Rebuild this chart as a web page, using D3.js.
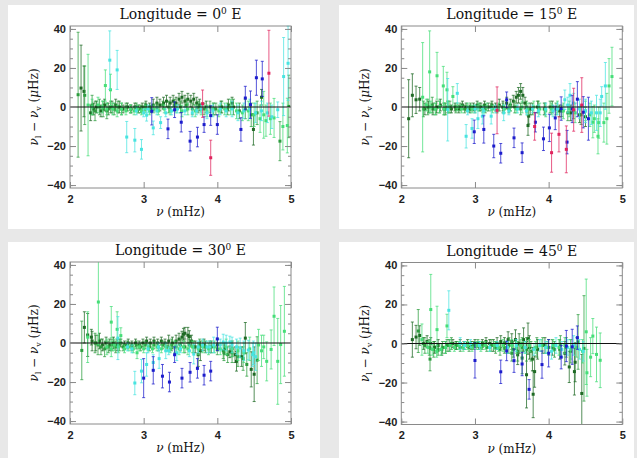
<!DOCTYPE html>
<meta charset="utf-8">
<script src="https://d3js.org/d3.v7.min.js"></script>
<style>
  body { margin: 0; background: #e8e8e8; }
  svg { display: block; }
</style>
<body>
<div id="chart"></div>
<script>

// data: [nu (mHz), nu_l - nu_v (muHz), error]
// ---- Longitude = 0 E
var lon0_dkgreen = [[2.15,9.7,22],[2.19,8,13],[2.28,-3,4],[2.32,-1,3],[2.36,0,3],[2.42,-2,3],[2.47,1,3],[2.52,-1,3],[2.57,0,3],[2.62,1,3],[2.67,0,3],[2.72,-1,2],[2.78,0,2],[2.83,-1,2],[2.88,0,2],[2.93,-1,2],[2.98,0,2],[3.03,1,2],[3.08,0,2],[3.13,1,3],[3.18,2,3],[3.22,1,3],[3.27,2,3],[3.31,3,3],[3.36,2,3],[3.40,3,3],[3.44,2,3],[3.48,4,3],[3.52,5,3],[3.56,3,3],[3.60,4,3],[3.64,3,3],[3.68,4,3],[3.72,2,3],[3.76,1,3],[3.85,0,3],[3.95,-1,3],[4.05,0,3],[4.15,1,3],[4.2,2,3],[4.49,-11.5,8],[4.6,5,4]];
var lon0_green = [[2.11,6.3,32],[2.2,6,15],[2.3,1,5],[2.34,-2,5],[2.4,0,4],[2.45,-1,4],[2.5,-2,4],[2.55,0,3],[2.6,-1,3],[2.65,0,3],[2.7,-1,3],[2.76,0,2],[2.82,-1,2],[2.9,0,2],[2.96,-1,2],[3.02,0,2],[3.1,-1,2],[3.18,0,2],[3.26,1,2],[3.34,0,3],[3.42,1,3],[3.5,0,3],[3.58,1,3],[3.66,-1,3],[3.74,0,3],[3.82,-1,3],[3.9,0,3],[3.98,-1,3],[4.06,0,3],[4.14,-1,3],[4.22,0,4],[4.3,-2,4],[4.38,-1,5],[4.46,-4,6],[4.54,-3,6],[4.85,-17.5,10],[4.97,0.3,16]];
var lon0_ltgreen = [[2.245,1,26],[2.3,0,4],[2.38,1,4],[2.44,0,3],[2.48,11,8],[2.5,-1,3],[2.55,8.8,8],[2.58,-1,3],[2.64,-2,3],[2.7,-1,3],[2.76,-2,2],[2.82,-1,2],[2.87,-2,2],[2.92,-1,2],[2.97,-2,2],[3.02,-1,2],[3.08,-2,2],[3.14,-1,2],[3.2,-2,2],[3.28,-1,2],[3.36,-2,2],[3.44,-1,2],[3.52,-2,3],[3.6,-1,3],[3.7,-2,3],[3.78,-1,3],[3.86,-2,3],[3.94,-1,3],[4.02,-2,3],[4.1,-1,3],[4.18,0,4],[4.26,-2,4],[4.34,-3,4],[4.42,-2,5],[4.5,-4,6],[4.58,-6,7],[4.63,-4,12],[4.66,-7,8],[4.72,-6,8],[4.77,-5.6,10],[4.89,-10,12],[4.95,-9.5,14]];
var lon0_cyan = [[2.54,24,15],[2.64,19,10],[2.77,-15.4,8],[2.88,-17,6],[2.9,-2,2],[2.97,-21.7,5],[3.0,-3,2],[3.04,-4.2,3],[3.06,-1,2],[3.13,-10.7,3.5],[3.18,-2,2],[3.23,-8,3],[3.3,-3,2],[3.38,-2,2],[3.46,-1,2],[3.56,-2,2],[3.66,-3,2],[3.72,-2,2],[3.78,-1,2],[3.86,-3,3],[3.94,-2,3],[4.04,-1,3],[4.12,-2,3],[4.2,-1,4],[4.28,-3,4],[4.36,-2,4],[4.44,-1,5],[4.52,-3,5],[4.6,-2,5],[4.68,-3,5],[4.74,-5,6],[4.82,-1.4,4],[4.9,15.6,20],[4.96,22.4,19]];
var lon0_blue = [[3.11,-2.2,7],[3.33,-11.2,5],[3.42,-1.4,4],[3.51,-7.8,5],[3.63,-17.5,5],[3.73,-15.4,5],[3.82,-9,4],[3.91,-4.4,5],[4.0,-9,5],[4.32,-11.5,6],[4.38,4.6,6],[4.45,1.2,7],[4.53,15,9],[4.61,14.4,9]];
var lon0_red = [[3.8,1.7,7],[3.91,-26,9],[4.7,17.3,22]];

// ---- Longitude = 15 E
var lon15_dkgreen = [[2.1,-6,20],[2.15,6,11],[2.2,3.7,7],[2.25,4,6],[2.32,-1,3],[2.37,0,3],[2.43,-1,3],[2.48,0,3],[2.53,1,3],[2.58,-1,3],[2.63,0,3],[2.68,-1,2],[2.73,0,2],[2.78,-1,2],[2.83,1,2],[2.88,0,2],[2.93,-1,2],[2.98,0,2],[3.03,1,2],[3.08,0,2],[3.13,1,2],[3.18,0,2],[3.23,1,2],[3.28,0,2],[3.33,1,3],[3.38,0,3],[3.43,2,3],[3.48,1,3],[3.52,3,3],[3.56,5,3],[3.59,6,4],[3.62,8,4],[3.65,6,4],[3.68,2,3],[3.72,-9.5,5],[3.73,-4.7,4],[3.75,-1,3],[3.85,0,3],[3.95,-1,3],[4.05,0,3],[4.15,-2,3],[4.3,-3,4],[4.42,-4,4],[4.5,-5,5]];
var lon15_green = [[2.3,-1,4],[2.36,0,4],[2.42,1,4],[2.47,-1,3],[2.52,0,3],[2.6,-1,3],[2.66,0,3],[2.74,-1,2],[2.8,0,2],[2.86,-1,2],[2.94,0,2],[3.0,-1,2],[3.06,0,2],[3.14,-1,2],[3.22,0,2],[3.3,-1,2],[3.38,0,2],[3.46,-1,2],[3.54,0,3],[3.62,-1,3],[3.7,0,3],[3.78,-1,3],[3.86,0,3],[3.94,-1,3],[4.02,0,3],[4.1,-1,3],[4.18,-2,3],[4.26,-3,4],[4.34,-2,4],[4.44,-4,5]];
var lon15_ltgreen = [[2.29,5,28],[2.34,1,3],[2.385,18,21],[2.4,0,3],[2.46,-1,3],[2.485,16,12],[2.52,0,3],[2.57,10.8,10],[2.58,-1,3],[2.62,8.8,9],[2.64,0,3],[2.7,5.4,5],[2.76,0,2],[2.82,-1,2],[2.9,0,2],[2.96,-1,2],[3.04,0,2],[3.1,-1,2],[3.16,0,2],[3.24,-1,2],[3.32,0,2],[3.4,-1,2],[3.48,0,2],[3.56,-1,2],[3.64,0,3],[3.72,-1,3],[3.8,0,3],[3.88,-1,3],[3.96,-2,3],[4.04,-1,3],[4.12,0,3],[4.2,-2,4],[4.28,-1,4],[4.36,-3,5],[4.5,-2,5],[4.56,-4,6],[4.6,-7.8,8],[4.62,-6,7],[4.67,-15,9],[4.68,-8,8],[4.75,-8,10],[4.79,-6,13],[4.82,10.8,14],[4.86,15.6,15]];
var lon15_cyan = [[2.63,-1.4,16],[2.76,7,5],[2.88,-15,6],[2.9,-2,2],[2.96,-11,5],[3.0,-1,2],[3.04,-6,5],[3.1,-4.7,4],[3.12,-2,2],[3.22,-4.7,4],[3.28,-1,2],[3.39,-3,4],[3.46,-2,2],[3.58,-1,2],[3.7,-2,2],[3.78,-1,2],[3.86,-2,3],[3.96,-1,3],[4.06,-2,3],[4.12,-1,3],[4.22,3.7,5],[4.26,1,4],[4.29,6,6],[4.34,2,5],[4.42,-1,5],[4.5,-2,6],[4.58,-3,6],[4.65,-3,9],[4.7,-3,7],[4.72,5.4,5],[4.77,10.8,12]];
var lon15_blue = [[2.99,-12.7,6],[3.12,-11.5,7],[3.255,-20,6],[3.35,-23.7,5],[3.43,3.7,4],[3.53,-15.8,5],[3.64,-23.4,5],[3.82,-7.8,5],[3.93,-16.3,6],[4.01,-10.7,7],[4.09,-5.6,6],[4.17,-0.8,6],[4.25,-18,6],[4.32,-1,7],[4.39,4,9],[4.47,-2.7,8],[4.54,-6,11]];
var lon15_red = [[3.3,-1.7,12],[3.81,-10,7],[4.04,-23.4,10],[4.14,-14,9],[4.24,-21.7,12],[4.34,-1.4,11],[4.45,1,14]];

// ---- Longitude = 30 E
var lon30_dkgreen = [[2.195,8,8],[2.24,4.1,11],[2.29,3,4],[2.3,1,5],[2.35,0,4],[2.4,1,4],[2.44,-1,3],[2.49,0,3],[2.54,-1,3],[2.59,0,3],[2.64,-1,3],[2.69,0,2],[2.74,-1,2],[2.79,0,2],[2.84,-1,2],[2.89,0,2],[2.94,-1,2],[2.99,0,2],[3.04,1,2],[3.09,0,2],[3.14,1,2],[3.19,0,2],[3.24,1,2],[3.29,0,2],[3.34,1,3],[3.39,0,3],[3.44,1,3],[3.48,2,3],[3.52,3,3],[3.54,4.5,3],[3.56,5,3],[3.6,4,4],[3.62,3.3,3],[3.65,1,3],[3.7,-2,3],[3.74,-6,6],[3.77,-4,5],[3.82,-1,3],[3.9,-2,3],[4.0,-1,3],[4.1,-3,3],[4.17,-4.5,3],[4.2,-3,4],[4.24,-6,4],[4.26,-9.4,5],[4.33,-7,5],[4.38,2.5,8],[4.46,-13.5,9],[4.5,-16,14]];
var lon30_green = [[2.16,-3.8,15],[2.34,0,5],[2.38,-1,5],[2.42,-2,4],[2.47,-3,4],[2.52,-2,3],[2.57,-1,3],[2.62,-2,3],[2.67,-1,3],[2.72,-2,2],[2.78,-1,2],[2.84,-2,2],[2.9,-1,2],[2.96,-2,2],[3.02,-1,2],[3.08,-2,2],[3.14,-1,2],[3.2,-2,2],[3.26,-1,2],[3.32,-2,2],[3.38,-1,3],[3.44,-2,3],[3.5,-1,3],[3.56,-2,3],[3.62,-1,3],[3.68,-2,3],[3.76,-1,3],[3.84,-2,3],[3.92,-2,3],[4.0,-3,3],[4.08,-4,4],[4.09,-5,4],[4.14,-6,4],[4.2,-5,5],[4.28,-7,5],[4.35,-8,6],[4.4,-11,6],[4.54,-8.8,12]];
var lon30_ltgreen = [[2.24,3,13],[2.385,21,22],[2.5,-2,4],[2.56,10.7,8],[2.56,-3,4],[2.6,-1,3],[2.64,7,9],[2.66,-2,3],[2.69,3.8,4],[2.74,-3,2],[2.8,-2,2],[2.86,-3,2],[2.91,-5,3],[2.94,-2,2],[3.0,-3,2],[3.06,-2,2],[3.12,-3,2],[3.18,-2,2],[3.24,-3,2],[3.3,-2,2],[3.36,-3,2],[3.42,-2,3],[3.48,-3,3],[3.54,-2,3],[3.6,-3,3],[3.66,-2,3],[3.74,-3,3],[3.8,-2,3],[3.88,-3,3],[3.96,-2,3],[4.04,-3,3],[4.12,-2,4],[4.2,-3,4],[4.28,-4,5],[4.36,-5,5],[4.44,-3,6],[4.56,-1,8],[4.6,-4,8],[4.63,-2,6],[4.67,-9.4,10],[4.73,-3.3,10],[4.77,13.7,15],[4.82,-9.4,22],[4.86,-0.8,20],[4.91,6,23]];
var lon30_cyan = [[2.65,2.5,11],[2.78,-2,2],[2.84,-3,2],[2.88,-20.5,6],[2.97,-14.4,6],[3.04,-11,6],[3.06,-3,2],[3.13,-10,4],[3.2,-2,2],[3.21,-8,5],[3.3,-4,4],[3.34,-4,2],[3.45,-5,4],[3.5,-3,2],[3.62,-4,3],[3.68,-5.7,5],[3.74,-2,3],[3.8,-1,3],[3.86,-2,3],[3.9,-2,3],[3.95,-1,4],[4.04,-1,3],[4.08,0.5,4],[4.12,0,4],[4.17,0.5,3],[4.2,-1,4],[4.26,-2,4],[4.31,-2.5,5],[4.36,-4,5],[4.42,-3.6,5],[4.48,-6,6],[4.49,-5,6],[4.52,-7,7]];
var lon30_blue = [[3.0,-18,10],[3.13,-14,7],[3.255,-17,6],[3.35,-20,5],[3.42,-6,4],[3.52,-18,5],[3.63,-15,5],[3.73,-13,5],[3.82,-16.5,5],[3.91,-14.4,5],[4.0,2.1,6]];
var lon30_red = [];

// ---- Longitude = 45 E
var lon45_dkgreen = [[2.15,2,9],[2.2,3.3,6],[2.25,4.1,5],[2.3,0,3],[2.35,1,3],[2.4,0,3],[2.45,-2,3],[2.5,-1,3],[2.55,-3,3],[2.6,-2,3],[2.65,-1,3],[2.7,0,2],[2.75,-1,2],[2.8,0,2],[2.85,-1,2],[2.9,0,2],[2.95,-1,2],[3.0,0,2],[3.05,-1,2],[3.1,0,2],[3.15,1,2],[3.2,0,2],[3.25,-1,3],[3.3,0,3],[3.35,1,3],[3.4,0,3],[3.45,2,4],[3.5,1,4],[3.55,2,5],[3.58,-5.8,5],[3.6,0,5],[3.66,2,6],[3.7,-16,17],[3.72,2.5,8],[3.74,-2,6],[3.78,-8,6],[3.79,-26,12],[3.81,-14.4,8],[3.85,-3,5],[3.95,-1,4],[4.05,-2,4],[4.15,-3,5],[4.22,-5,6],[4.28,-12,8],[4.35,-14.4,12],[4.36,-9.6,10],[4.45,-25.6,20]];
var lon45_green = [[2.23,6.4,11],[2.32,-1,4],[2.38,-2,4],[2.39,-8,6],[2.44,-3,4],[2.5,-3,3],[2.56,-2,3],[2.62,-1,3],[2.68,0,3],[2.74,-1,2],[2.8,-2,2],[2.86,-1,2],[2.92,-2,2],[2.98,-1,2],[3.04,0,2],[3.1,-1,2],[3.16,-2,2],[3.22,-1,3],[3.28,-2,3],[3.34,-3,3],[3.4,-2,3],[3.46,-1,4],[3.5,-5,4],[3.52,-3,4],[3.58,-4,5],[3.64,-7.5,8],[3.64,-2,5],[3.7,-3,6],[3.76,-4,5],[3.84,-2,5],[3.92,-1,4],[4.0,-2,4],[4.08,-3,4],[4.16,-1,5],[4.24,-2,5],[4.3,-4,6],[4.4,0.8,14],[4.48,-2.5,27]];
var lon45_ltgreen = [[2.28,2,8],[2.36,-2,3],[2.4,17.4,18],[2.42,-3,3],[2.48,-4,3],[2.485,7.1,12],[2.54,-3,3],[2.6,-2,3],[2.62,9,6],[2.66,-1,3],[2.72,-2,2],[2.78,-1,2],[2.84,-2,2],[2.9,-1,2],[2.96,-2,2],[3.02,-1,2],[3.08,-2,2],[3.14,-1,2],[3.2,-2,2],[3.26,-1,2],[3.32,-2,2],[3.38,-1,3],[3.44,-2,3],[3.5,-1,3],[3.56,-2,3],[3.62,-1,3],[3.68,-2,3],[3.74,-1,3],[3.82,-2,3],[3.9,-1,3],[3.98,-2,3],[4.06,-1,3],[4.14,-2,4],[4.22,-1,4],[4.3,-3,5],[4.38,-2,5],[4.46,-4,6],[4.51,6,27],[4.52,-15,12],[4.57,-7,10],[4.6,3.8,9],[4.65,-5.6,14],[4.7,-8.6,14]];
var lon45_cyan = [[2.645,17,10],[2.8,0,3],[2.86,-1,2],[2.94,0,2],[3.06,-1,2],[3.2,-2,2],[3.3,-1,2],[3.44,-2,3],[3.56,-1,3],[3.68,-2,3],[3.8,-3,3],[3.88,-1,3],[3.96,-2,3],[4.04,-4,4],[4.1,-1,4],[4.18,-3,4],[4.26,-2,4],[4.34,-1,5],[4.42,-3,5],[4.47,-4,5]];
var lon45_blue = [[3.0,-8.7,9],[3.35,-14.5,6],[3.43,-3.8,5],[3.53,-8.8,6],[3.64,-10.5,6],[3.735,-23.5,5],[3.91,-10.8,7],[4.0,-5,7],[4.17,-7,6],[4.24,-1.3,8],[4.32,-1.7,9],[4.39,3,6]];
var lon45_red = [];

var longitudes = ["0", "15", "30", "45"];
var seriesColors = ["#1e6a24", "#2c9c3e", "#46de78", "#48e4e0", "#1c1ccc", "#e0245e"];
var yTicks = [-40, -20, 0, 20, 40];
var xTicks = [2, 3, 4, 5];

var panelData = [
  [lon0_dkgreen, lon0_green, lon0_ltgreen, lon0_cyan, lon0_blue, lon0_red],
  [lon15_dkgreen, lon15_green, lon15_ltgreen, lon15_cyan, lon15_blue, lon15_red],
  [lon30_dkgreen, lon30_green, lon30_ltgreen, lon30_cyan, lon30_blue, lon30_red],
  [lon45_dkgreen, lon45_green, lon45_ltgreen, lon45_cyan, lon45_blue, lon45_red]
];

var W = 637, H = 458;
var svg = d3.select("#chart").append("svg")
  .attr("width", W)
  .attr("height", H);

// white boxes behind each panel
var boxes = [[8, 5, 312, 224], [339, 5, 295, 224], [8, 242, 312, 216], [339, 242, 295, 216]];
// plot frame origin for each panel
var origins = [[70, 26], [401.3, 26], [70, 262], [401.3, 262.5]];
var pw = 221, ph = 162;

var x = d3.scaleLinear().domain([2, 5]).range([0, pw]);
var y = d3.scaleLinear().domain([-41.5, 41.5]).range([ph, 0]);

var serif = "'DejaVu Serif', 'Liberation Serif', serif";

longitudes.forEach(function(lon, i) {
  svg.append("rect")
    .attr("x", boxes[i][0]).attr("y", boxes[i][1])
    .attr("width", boxes[i][2]).attr("height", boxes[i][3])
    .attr("fill", "white");

  var g = svg.append("g")
    .attr("transform", "translate(" + origins[i][0] + "," + origins[i][1] + ")");

  // title
  var t = g.append("text")
    .attr("x", pw / 2).attr("y", -7)
    .attr("text-anchor", "middle")
    .style("font", "14px " + serif)
    .style("fill", "#111");
  t.append("tspan").text("Longitude = " + lon);
  t.append("tspan").attr("dy", -5).style("font-size", "9px").text("0");
  t.append("tspan").attr("dy", 5).text(" E");

  // error bars + markers
  panelData[i].forEach(function(series, k) {
    var col = seriesColors[k];
    var pts = g.append("g");
    pts.selectAll("line.bar").data(series).enter().append("line")
      .attr("x1", function(d) { return x(d[0]); })
      .attr("x2", function(d) { return x(d[0]); })
      .attr("y1", function(d) { return y(Math.min(d[1] + d[2], 41.5)); })
      .attr("y2", function(d) { return y(Math.max(d[1] - d[2], -41.5)); })
      .attr("stroke", col).attr("stroke-opacity", 0.75).attr("stroke-width", 1);
    pts.selectAll("line.capt").data(series.filter(function(d) { return d[1] + d[2] < 41.5; })).enter().append("line")
      .attr("x1", function(d) { return x(d[0]) - 1.5; })
      .attr("x2", function(d) { return x(d[0]) + 1.5; })
      .attr("y1", function(d) { return y(d[1] + d[2]); })
      .attr("y2", function(d) { return y(d[1] + d[2]); })
      .attr("stroke", col).attr("stroke-opacity", 0.75);
    pts.selectAll("line.capb").data(series.filter(function(d) { return d[1] - d[2] > -41.5; })).enter().append("line")
      .attr("x1", function(d) { return x(d[0]) - 1.5; })
      .attr("x2", function(d) { return x(d[0]) + 1.5; })
      .attr("y1", function(d) { return y(d[1] - d[2]); })
      .attr("y2", function(d) { return y(d[1] - d[2]); })
      .attr("stroke", col).attr("stroke-opacity", 0.75);
    pts.selectAll("rect").data(series).enter().append("rect")
      .attr("x", function(d) { return x(d[0]) - 1.5; })
      .attr("y", function(d) { return y(d[1]) - 1.5; })
      .attr("width", 3).attr("height", 3)
      .attr("fill", col);
  });

  // zero line
  g.append("line")
    .attr("x1", 0).attr("x2", pw)
    .attr("y1", y(0)).attr("y2", y(0))
    .attr("stroke", "#111").attr("stroke-width", 1);

  // frame
  g.append("rect")
    .attr("width", pw).attr("height", ph)
    .attr("fill", "none").attr("stroke", "#8a8a8a");

  // ticks pointing inward
  var minor = d3.range(-40, 41, 5);
  function addAxis(axis, tr, labels) {
    var a = g.append("g").attr("transform", tr).call(axis);
    a.select(".domain").remove();
    a.selectAll("line").attr("stroke", "#8a8a8a");
    if (!labels) a.selectAll("text").remove();
    return a;
  }
  var yl = addAxis(d3.axisLeft(y).tickValues(yTicks).tickSizeInner(-6).tickSizeOuter(0).tickPadding(4)
    .tickFormat(function(d) { return d < 0 ? "\u2212" + (-d) : d; }), null, true);
  yl.selectAll("text").style("font", "bold 11px 'Liberation Sans', Arial, sans-serif").style("fill", "#222");
  addAxis(d3.axisLeft(y).tickValues(minor).tickSizeInner(-3).tickSizeOuter(0), null, false);
  addAxis(d3.axisRight(y).tickValues(yTicks).tickSizeInner(-6).tickSizeOuter(0), "translate(" + pw + ",0)", false);
  addAxis(d3.axisRight(y).tickValues(minor).tickSizeInner(-3).tickSizeOuter(0), "translate(" + pw + ",0)", false);
  var xl = addAxis(d3.axisBottom(x).tickValues(xTicks).tickSizeInner(-6).tickSizeOuter(0).tickPadding(7)
    .tickFormat(d3.format("d")), "translate(0," + ph + ")", true);
  xl.selectAll("text").style("font", "bold 11px 'Liberation Sans', Arial, sans-serif").style("fill", "#222");
  addAxis(d3.axisTop(x).tickValues(xTicks).tickSizeInner(-6).tickSizeOuter(0), null, false);

  // axis titles
  var xt = g.append("text")
    .attr("x", pw / 2).attr("y", ph + 28)
    .attr("text-anchor", "middle")
    .style("font", "12px " + serif).style("fill", "#111");
  xt.append("tspan").style("font-style", "italic").text("\u03bd");
  xt.append("tspan").text(" (mHz)");

  var yt = g.append("text")
    .attr("transform", "translate(-32," + (ph / 2) + ") rotate(-90)")
    .attr("text-anchor", "middle")
    .style("font", "12px " + serif).style("fill", "#111");
  yt.append("tspan").style("font-style", "italic").text("\u03bd");
  yt.append("tspan").attr("dy", 3).style("font-size", "8px").text("l");
  yt.append("tspan").attr("dy", -3).text(" \u2212 ");
  yt.append("tspan").style("font-style", "italic").text("\u03bd");
  yt.append("tspan").attr("dy", 3).style("font-size", "8px").text("v");
  yt.append("tspan").attr("dy", -3).text(" (");
  yt.append("tspan").style("font-style", "italic").text("\u03bc");
  yt.append("tspan").text("Hz)");
});

</script>
</body>
